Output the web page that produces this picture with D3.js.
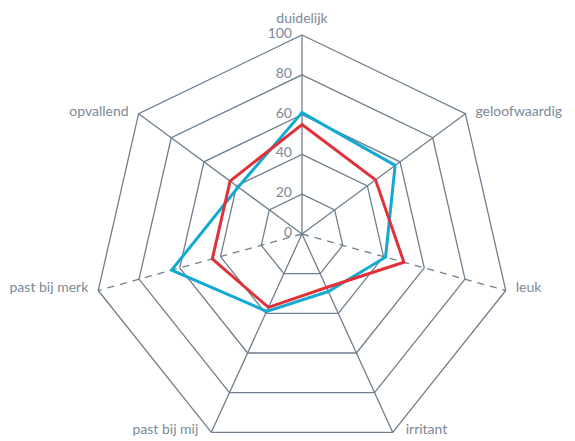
<!DOCTYPE html>
<html>
<head>
<meta charset="utf-8">
<script src="https://cdn.jsdelivr.net/npm/d3@7"></script>
<style>
  body { margin: 0; background: #fff; }
  text { font-family: Lato, "Noto Sans", sans-serif; fill: #7b8997; }
</style>
</head>
<body>
<div id="chart"></div>
<script>
// categories clockwise from the top
var categories = ['duidelijk', 'geloofwaardig', 'leuk', 'irritant', 'past bij mij', 'past bij merk', 'opvallend'];
var blueValues = [61, 57, 41, 29, 39, 64, 39];
var redValues = [55, 45, 50, 27, 37, 44, 44];
var tickValues = [0, 20, 40, 60, 80, 100];
var dashedAxes = ['leuk', 'past bij merk'];

var width = 575, height = 441;
var cx = 302, cy = 234;

var svg = d3.select('#chart').append('svg')
    .attr('width', width)
    .attr('height', height);

var g = svg.append('g').attr('transform', 'translate(' + cx + ',' + cy + ')');

// radius plus a small downward drift per value (the original is slightly skewed)
var r = d3.scaleLinear().domain([0, 100]).range([0, 209]);
var drift = d3.scaleLinear().domain([0, 100]).range([0, 10]);
var angle = d3.scaleLinear().domain([0, categories.length]).range([0, 2 * Math.PI]);

function point(i, v) {
    var a = angle(i);
    return [r(v) * Math.sin(a), -r(v) * Math.cos(a) + drift(v)];
}

var gridColor = '#6f7f8e';

// rings
var ring = d3.line().curve(d3.curveLinearClosed);
g.append('g').selectAll('path')
    .data(tickValues.slice(1))
    .enter().append('path')
    .attr('d', function(t) { return ring(categories.map(function(c, i) { return point(i, t); })); })
    .attr('fill', 'none')
    .attr('stroke', gridColor)
    .attr('stroke-width', 1.3);

// spokes
g.append('g').selectAll('line')
    .data(categories)
    .enter().append('line')
    .attr('x1', 0).attr('y1', 0)
    .attr('x2', function(c, i) { return point(i, 100)[0]; })
    .attr('y2', function(c, i) { return point(i, 100)[1]; })
    .attr('stroke', gridColor)
    .attr('stroke-width', 1.3)
    .attr('stroke-dasharray', function(c) { return dashedAxes.indexOf(c) >= 0 ? '7,6' : null; });

// tick labels along the top axis
g.append('g').selectAll('text')
    .data(tickValues)
    .enter().append('text')
    .attr('x', function(t) { return point(0, t)[0] - 10; })
    .attr('y', function(t) { return point(0, t)[1] - 2; })
    .attr('dy', '0.35em')
    .attr('text-anchor', 'end')
    .style('font-size', '14px')
    .text(function(t) { return t; });

// category labels
g.append('g').selectAll('text')
    .data(categories)
    .enter().append('text')
    .attr('x', function(c, i) {
        var p = point(i, 100);
        if (Math.abs(p[0]) < 1) return p[0];
        var off = p[1] > 150 ? 13 : 10;
        return p[0] + (p[0] > 0 ? off : -off);
    })
    .attr('y', function(c, i) {
        var p = point(i, 100);
        return Math.abs(p[0]) < 1 ? p[1] - 17 : p[1] - 3;
    })
    .attr('dy', '0.35em')
    .attr('text-anchor', function(c, i) {
        var p = point(i, 100);
        return Math.abs(p[0]) < 1 ? 'middle' : (p[0] > 0 ? 'start' : 'end');
    })
    .style('font-size', '14px')
    .text(function(c) { return c; });

// series
var series = [
    {values: blueValues, color: '#12a9d3'},
    {values: redValues, color: '#e0313a'}
];

g.append('g').selectAll('path')
    .data(series)
    .enter().append('path')
    .attr('d', function(s) { return ring(s.values.map(function(v, i) { return point(i, v); })); })
    .attr('fill', 'none')
    .attr('stroke', function(s) { return s.color; })
    .attr('stroke-width', 3)
    .attr('stroke-linejoin', 'miter');
</script>
</body>
</html>
